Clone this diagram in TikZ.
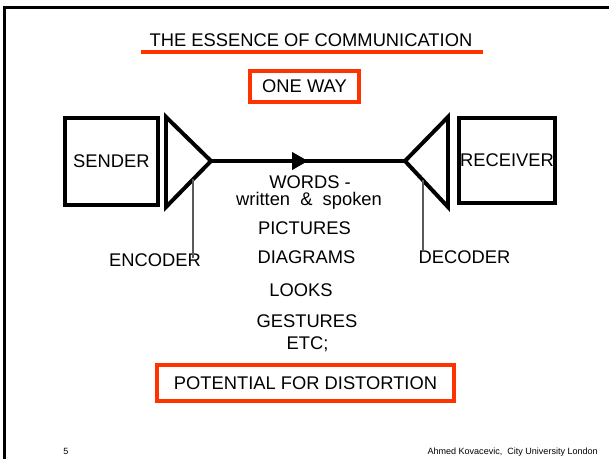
\documentclass[tikz,border=0pt]{standalone}
\usepackage{fontspec}
\setmainfont{Liberation Sans}
\usepackage{xcolor}
\usepackage{tikz}
\usetikzlibrary{arrows.meta,decorations.markings}
\definecolor{slidered}{RGB}{255,51,0}

\begin{document}
\begin{tikzpicture}[
  every node/.style={font=\fontsize{13.8}{15}\selectfont, inner sep=0pt},
  party/.style={draw, line width=3pt},
  redbox/.style={draw=slidered, line width=3pt},
  coder/.style={line width=3pt, line join=miter},
  tap/.style={gray!70!black, line width=1.1pt},
  item/.style={anchor=base},
  foot/.style={anchor=base, font=\fontsize{6.8}{8}\selectfont}
]
\useasboundingbox (0,0) rectangle (16.113,12.144);
\draw[line width=1.9pt] (0.119,0) -- (0.119,11.951) -- (16.113,11.951);

% title and heading
\node[item] (title) at (8.228,10.901) {THE ESSENCE OF COMMUNICATION};
\draw[slidered, line width=2.3pt] (3.731,10.768) -- (12.779,10.768);
\node[redbox, minimum width=2.884cm, minimum height=0.82cm] (oneway) at (8.056,9.856) {ONE WAY};

% sender and receiver
\node[party, minimum width=2.469cm, minimum height=2.302cm] (sender) at (2.946,7.871) {SENDER};
\node[party, minimum width=2.54cm, minimum height=2.249cm] (receiver) at (13.414,7.898) {RECEIVER};

% encoder and decoder
\coordinate (enctop) at (4.392,9.049);
\coordinate (encbot) at (4.392,6.667);
\coordinate (encapex) at (5.583,7.884);
\coordinate (dectop) at (11.853,9.049);
\coordinate (decbot) at (11.853,6.667);
\coordinate (decapex) at (10.716,7.884);
\draw[coder] (enctop) -- (encapex) -- (encbot) -- cycle;
\draw[coder] (dectop) -- (decapex) -- (decbot) -- cycle;
\draw[line width=2.3pt, postaction={decorate},
  decoration={markings, mark=at position 0.5 with {\arrow{Triangle[length=12pt,width=13pt]}}}]
  (encapex) -- (decapex);

\node[item] (encoder) at (4.101,5.080) {ENCODER};
\node[item] (decoder) at (12.290,5.159) {DECODER};
\coordinate (enctap) at (5.106,7.398);
\coordinate (dectap) at (11.192,7.374);
\draw[tap] (enctap) -- ([yshift=-3pt]enctap |- encoder.north);
\draw[tap] (dectap) -- (dectap |- decoder.north);

% what goes along the line
\node[item] (words) at (8.202,7.144) {WORDS -};
\node[item] (written) at (8.176,6.694) {written \ \& \ spoken};
\node[item] (pictures) at (8.056,5.927) {PICTURES};
\node[item] (diagrams) at (8.109,5.159) {DIAGRAMS};
\node[item] (looks) at (7.964,4.286) {LOOKS};
\node[item] (gestures) at (8.123,3.466) {GESTURES};
\node[item] (etc) at (8.136,2.910) {ETC;};

\node[redbox, minimum width=7.858cm, minimum height=0.952cm] (distortion) at (8.083,2.011) {POTENTIAL FOR DISTORTION};

% footer
\node[foot] (pageno) at (1.746,0.11) {5};
\node[foot, anchor=base east] (author) at (15.822,0.11) {Ahmed Kovacevic,\ \ City University London};
\end{tikzpicture}
\end{document}
